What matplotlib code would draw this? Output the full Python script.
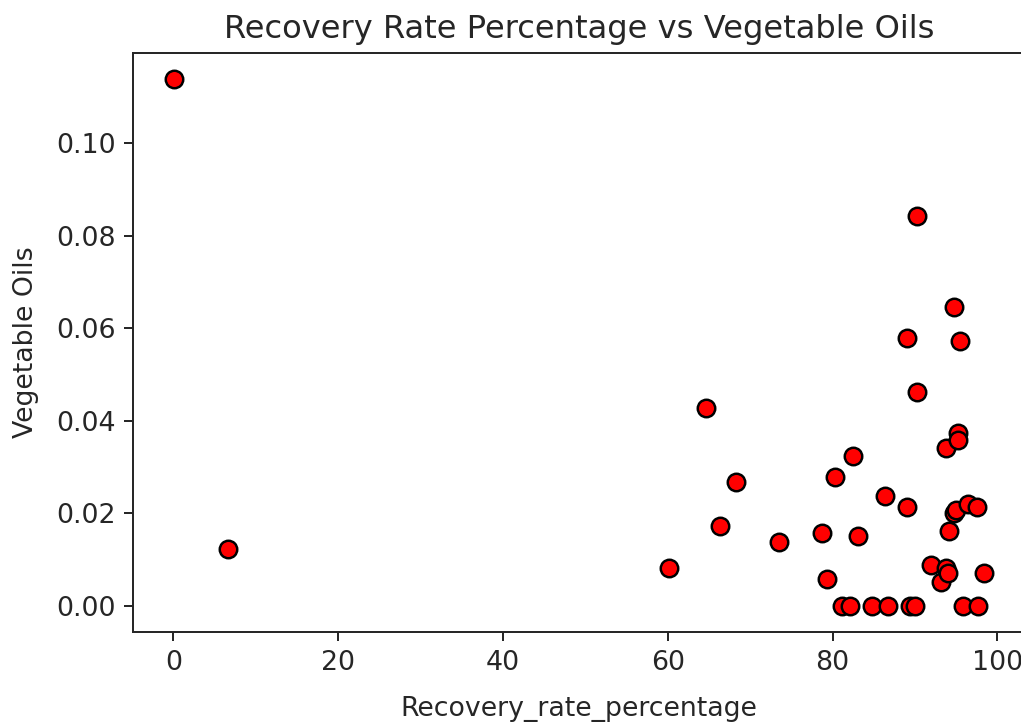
"""Scatter of recovery rate percentage against vegetable oils."""

import matplotlib.pyplot as plt

recovery_rate = [
    0.07, 6.6, 60.2, 64.7, 66.3, 68.3, 73.5, 78.7, 79.3, 80.3,
    82.5, 83.1, 86.4, 89.0, 89.0, 90.3, 90.3, 91.9, 93.2, 93.8,
    94.0, 93.8, 94.1, 94.8, 94.8, 95.0, 95.2, 95.2, 95.5, 96.4,
    97.5, 98.4, 81.2, 82.1, 84.8, 86.7, 89.4, 90.0, 95.8, 97.7,
]
vegetable_oils = [
    0.1138, 0.0123, 0.0082, 0.0428, 0.0174, 0.0267, 0.0139, 0.0157, 0.0058, 0.0278,
    0.0324, 0.0151, 0.0238, 0.0214, 0.0578, 0.0843, 0.0462, 0.0089, 0.0052, 0.0083,
    0.0071, 0.0341, 0.0163, 0.0646, 0.0202, 0.0207, 0.0373, 0.0359, 0.0572, 0.0220,
    0.0214, 0.0071, 0.0, 0.0, 0.0, 0.0, 0.0, 0.0, 0.0, 0.0,
]

plt.rcParams["text.color"] = "#262626"
plt.rcParams["axes.labelcolor"] = "#262626"
plt.rcParams["xtick.color"] = "#262626"
plt.rcParams["ytick.color"] = "#262626"
plt.rcParams["axes.edgecolor"] = "#262626"

DPI = 178
fig = plt.figure(figsize=(1021 / DPI, 722 / DPI), dpi=DPI)
ax = fig.add_axes([0.1306, 0.124, 0.873, 0.803])

ax.scatter(recovery_rate, vegetable_oils, c="red", edgecolors="black", s=50, linewidths=1.0)
ax.set_xticks([0, 20, 40, 60, 80, 100])
ax.set_yticks([0.0, 0.02, 0.04, 0.06, 0.08, 0.10])
ax.tick_params(labelsize=10.8)
ax.set_xlabel("Recovery_rate_percentage", fontsize=10.8, labelpad=8)
ax.set_ylabel("Vegetable Oils", fontsize=10.8, labelpad=7)
ax.set_title("Recovery Rate Percentage vs Vegetable Oils", fontsize=13)

fig.savefig("out.png", dpi=DPI)
